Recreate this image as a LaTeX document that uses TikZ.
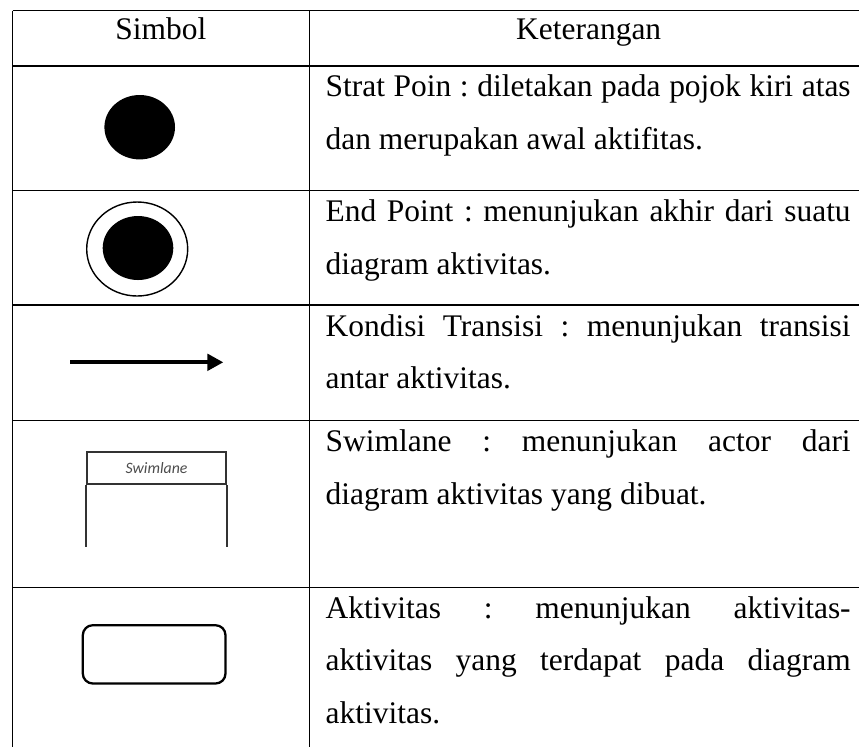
\documentclass[tikz,border=0pt]{standalone}
\usepackage{fontspec}
\setmainfont{Liberation Serif}
\setsansfont{Carlito}
\usetikzlibrary{shapes, arrows.meta, positioning}
\frenchspacing

\begin{document}
\begin{tikzpicture}[line width=0.75pt,
        head/.style={font=\fontsize{17.9}{29.9}\selectfont, anchor=base, inner sep=0pt},
        desc/.style={font=\fontsize{17.9}{29.9}\selectfont, anchor=base west, inner sep=0pt, text width=10.5cm, align=justify},
        dot/.style={ellipse, fill=black, inner sep=0pt, minimum width=1.412cm, minimum height=1.288cm},
        ring/.style={ellipse, draw, inner sep=0pt, line width=0.8pt, minimum width=2.02cm, minimum height=1.88cm},
        flow/.style={-{Triangle[length=0.32cm, width=0.33cm]}, line width=2.1pt},
        lanehead/.style={rectangle, draw=black!80, line width=1.2pt, minimum width=2.768cm, minimum height=0.64cm, inner sep=0pt, font=\fontsize{9}{10}\selectfont\sffamily\itshape, text=black!70},
        lane/.style={draw=black!80, line width=1.2pt},
        activity/.style={rectangle, draw, rounded corners=0.2cm, line width=1.3pt, minimum width=2.854cm, minimum height=1.166cm}]
        \useasboundingbox (0,0) rectangle (17.18,-14.94);
        \foreach \y in {-0.214, -1.32, -3.814, -6.1, -8.414, -11.746}
            \draw (0.254,\y) -- (17.18,\y);
        \draw (0.254,-0.214) -- (0.254,-14.94);
        \draw (6.186,-0.214) -- (6.186,-14.94);
        \node [head] (simbol) at (3.216,-0.794) {Simbol};
        \node [head] (keterangan) at (11.774,-0.794) {Keterangan};
        \node [dot] (start) at (2.794,-2.544) {};
        \node [ring] (endring) at (2.744,-4.98) {};
        \node [dot, minimum height=1.28cm] (enddot) at (2.76,-4.96) {};
        \coordinate (tail) at (1.4,-7.246);
        \coordinate (tip) at (4.466,-7.246);
        \draw [flow] (tail) -- (tip);
        \node [lanehead] (lane) at (3.13,-9.366) {Swimlane};
        \draw [lane] (lane.south west) -- ++(0,-1.228);
        \draw [lane] (lane.south east) -- ++(0,-1.228);
        \node [activity] (aktivitas) at (3.083,-13.087) {};
        \node [desc] (startdesc) at (6.5,-1.934) {Strat Poin : diletakan pada pojok kiri atas\linebreak dan merupakan awal aktifitas.};
        \node [desc] (enddesc) at (6.5,-4.434) {End Point : menunjukan akhir dari suatu\linebreak diagram aktivitas.};
        \node [desc] (transdesc) at (6.5,-6.72) {Kondisi Transisi : menunjukan transisi\linebreak antar aktivitas.};
        \node [desc] (lanedesc) at (6.5,-9.034) {Swimlane : menunjukan actor dari\linebreak diagram aktivitas yang dibuat.};
        \node [desc] (actdesc) at (6.5,-12.366) {Aktivitas : menunjukan aktivitas-\linebreak aktivitas yang terdapat pada diagram\linebreak aktivitas.};
    \end{tikzpicture}
\end{document}
